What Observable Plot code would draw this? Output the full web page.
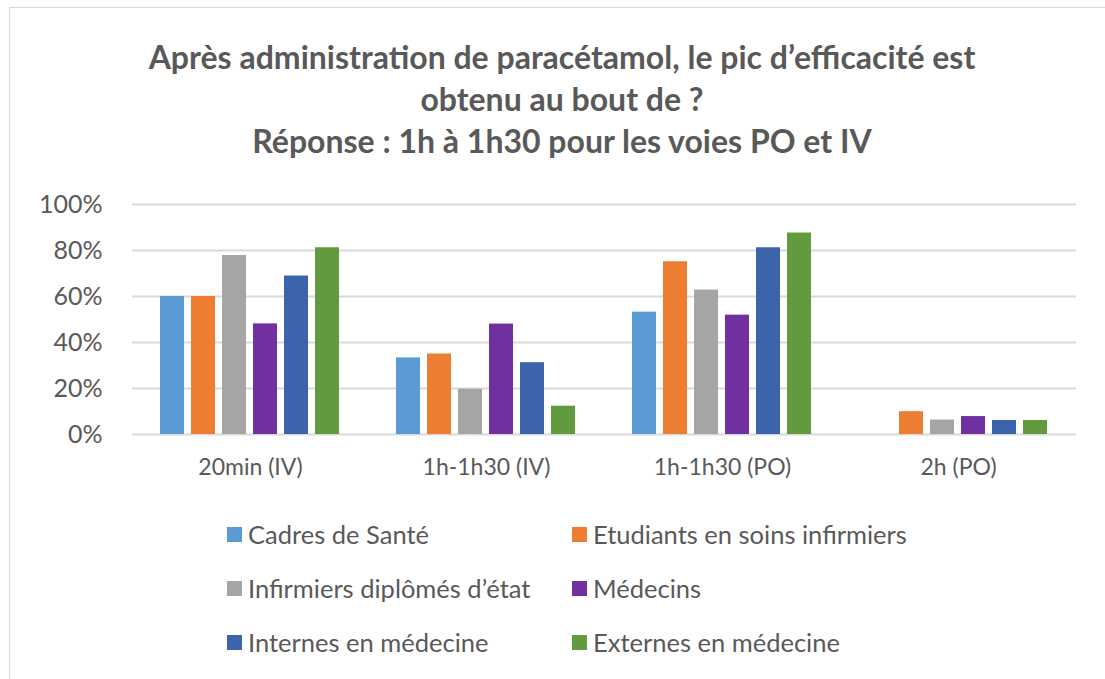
<!DOCTYPE html>
<html>
<head>
<meta charset="utf-8">
<script src="https://cdn.jsdelivr.net/npm/d3@7"></script>
<script src="https://cdn.jsdelivr.net/npm/@observablehq/plot@0.6"></script>
<style>
  html, body { margin: 0; padding: 0; background: #fff; overflow: hidden; }
  body { width: 1105px; height: 679px; position: relative; font-family: Lato, "Open Sans", sans-serif; color: #595959; }
  #frame { position: absolute; left: 9px; top: 7px; width: 1120px; height: 700px; border: 1.5px solid #d9d9d9; box-sizing: border-box; }
  #title { position: absolute; left: 0; width: 1124px; top: 36px; text-align: center; font-weight: bold; font-size: 32px; line-height: 42px; color: #595959; }
  #chart { position: absolute; left: 0; top: 170px; }
  #legend { position: absolute; left: 0; top: 0; width: 1105px; }
  .item { position: absolute; display: flex; align-items: center; font-size: 25.5px; color: #595959; white-space: nowrap; height: 30px; }
  .sw { width: 15px; height: 15px; margin-right: 6px; flex: none; }
</style>
</head>
<body>
<div id="frame"></div>
<div id="title">Après administration de paracétamol, le pic d’efficacité est<br>obtenu au bout de ?<br>Réponse : 1h à 1h30 pour les voies PO et IV</div>
<div id="chart"></div>
<div id="legend"></div>
<script>
const categories = ["20min (IV)", "1h-1h30 (IV)", "1h-1h30 (PO)", "2h (PO)"];
const series = ["Cadres de Santé", "Etudiants en soins infirmiers", "Infirmiers diplômés d’état", "Médecins", "Internes en médecine", "Externes en médecine"];
const colors = ["#5b9bd5", "#ed7d31", "#a5a5a5", "#7030a0", "#3b64ad", "#629b3e"];
const cadres = [60, 33.3, 53.2, 0];
const etudiants = [60, 35.0, 75.1, 9.9];
const infirmiers = [77.8, 19.7, 62.8, 6.3];
const medecins = [48.1, 48.0, 51.9, 7.8];
const internes = [68.9, 31.2, 81.2, 6.1];
const externes = [81.2, 12.3, 87.6, 6.1];
const yTicks = [0, 20, 40, 60, 80, 100];

const seriesValues = [cadres, etudiants, infirmiers, medecins, internes, externes];
const data = [];
categories.forEach((c, i) => {
  series.forEach((s, j) => {
    data.push({category: c, series: s, value: seriesValues[j][i]});
  });
});

const chart = Plot.plot({
  width: 1105,
  height: 310,
  marginLeft: 130,
  marginRight: 28,
  marginTop: 34,
  marginBottom: 46,
  style: {fontFamily: "Lato, 'Open Sans', sans-serif", color: "#595959", background: "transparent"},
  fx: {domain: categories, padding: 0, label: null, axis: "bottom", tickSize: 0, tickPadding: 24},
  x: {domain: series, axis: null, paddingInner: 0.21, paddingOuter: 0.85},
  y: {domain: [0, 100], label: null, ticks: yTicks, tickFormat: d => d + "%", tickSize: 0, tickPadding: 30},
  color: {domain: series, range: colors},
  marks: [
    Plot.ruleY(yTicks, {stroke: "#d9d9d9", strokeWidth: 2}),
    Plot.barY(data, {fx: "category", x: "series", y: "value", fill: "series"})
  ]
});
chart.querySelectorAll("text").forEach(t => t.setAttribute("fill", "#595959"));
chart.querySelectorAll('[aria-label^="y-axis"]').forEach(g => g.setAttribute("font-size", "25"));
chart.querySelectorAll('[aria-label^="fx-axis"]').forEach(g => g.setAttribute("font-size", "23"));
document.getElementById("chart").appendChild(chart);

const legend = document.getElementById("legend");
const colX = [227, 572];
const rowY = [534, 588, 642];
series.forEach((s, i) => {
  const div = document.createElement("div");
  div.className = "item";
  div.style.left = colX[i % 2] + "px";
  div.style.top = (rowY[Math.floor(i / 2)] - 15) + "px";
  const sw = document.createElement("span");
  sw.className = "sw";
  sw.style.background = colors[i];
  const tx = document.createElement("span");
  tx.textContent = s;
  div.appendChild(sw);
  div.appendChild(tx);
  legend.appendChild(div);
});
</script>
</body>
</html>
